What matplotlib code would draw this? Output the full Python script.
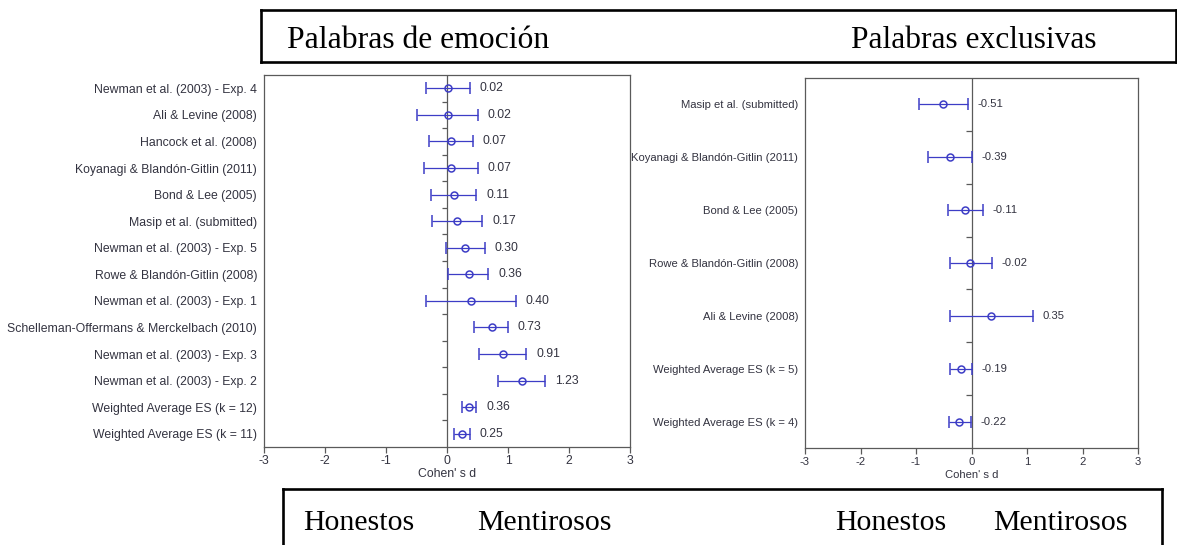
"""Forest plots: Cohen's d for emotion words vs exclusive words (honest vs liars)."""

import matplotlib

matplotlib.use("Agg")
import matplotlib.pyplot as plt  # noqa: E402
from matplotlib.lines import Line2D  # noqa: E402

# --- data -------------------------------------------------------------------
emo_labels = [
    "Newman et al. (2003) - Exp. 4",
    "Ali & Levine (2008)",
    "Hancock et al. (2008)",
    "Koyanagi & Blandón-Gitlin (2011)",
    "Bond & Lee (2005)",
    "Masip et al. (submitted)",
    "Newman et al. (2003) - Exp. 5",
    "Rowe & Blandón-Gitlin (2008)",
    "Newman et al. (2003) - Exp. 1",
    "Schelleman-Offermans & Merckelbach (2010)",
    "Newman et al. (2003) - Exp. 3",
    "Newman et al. (2003) - Exp. 2",
    "Weighted Average ES (k = 12)",
    "Weighted Average ES (k = 11)",
]
emo_d = [0.02, 0.02, 0.07, 0.07, 0.11, 0.17, 0.30, 0.36, 0.40, 0.73, 0.91, 1.23, 0.36, 0.25]
emo_lo = [-0.35, -0.49, -0.29, -0.37, -0.27, -0.24, -0.02, 0.01, -0.35, 0.45, 0.52, 0.84, 0.24, 0.12]
emo_hi = [0.37, 0.51, 0.43, 0.51, 0.48, 0.58, 0.62, 0.68, 1.13, 1.00, 1.30, 1.61, 0.48, 0.38]

exc_labels = [
    "Masip et al. (submitted)",
    "Koyanagi & Blandón-Gitlin (2011)",
    "Bond & Lee (2005)",
    "Rowe & Blandón-Gitlin (2008)",
    "Ali & Levine (2008)",
    "Weighted Average ES (k = 5)",
    "Weighted Average ES (k = 4)",
]
exc_d = [-0.51, -0.39, -0.11, -0.02, 0.35, -0.19, -0.22]
exc_lo = [-0.95, -0.79, -0.42, -0.39, -0.39, -0.38, -0.41]
exc_hi = [-0.07, 0.01, 0.21, 0.37, 1.10, 0.00, -0.01]

titles = ["Palabras de emoción", "Palabras exclusivas"]
sides = ["Honestos", "Mentirosos"]
x_ticks = [-3, -2, -1, 0, 1, 2, 3]

W, H = 1177, 545
BLUE = "#3d3dc6"
GRAY = "#5a5a5a"
TXT = "#333340"

plt.rcParams.update({
    "font.family": ["Liberation Sans", "DejaVu Sans"],
    "axes.unicode_minus": False,
})


def fx(x):
    return x / W


def fy(y):
    return 1 - y / H


def forest(fig, box, labels, d, lo, hi, fs, xpad):
    l, t, r, b = box
    ax = fig.add_axes([fx(l), fy(b), fx(r - l), (b - t) / H])
    n = len(labels)
    rows = list(range(n))
    ax.set_xlim(-3, 3)
    ax.set_ylim(n - 0.5, -0.5)
    ax.axvline(0, color=GRAY, lw=0.9, zorder=1)
    # small ticks on the zero line between rows
    tw = 6 * 5.5 / (r - l)
    ax.hlines([i + 0.5 for i in rows[:-1]], -tw, 0, color=GRAY, lw=0.9)
    err = [[di - a for di, a in zip(d, lo)], [c - di for di, c in zip(d, hi)]]
    ax.errorbar(d, rows, xerr=err, fmt="o", ms=5, mfc="none", mec=BLUE, mew=1.1,
                color=BLUE, ecolor=BLUE, elinewidth=0.9, capsize=4.3, capthick=0.9,
                zorder=3)
    for i, (v, h) in enumerate(zip(d, hi)):
        ax.annotate(f"{v:.2f}", (h, i), xytext=(7, 0), textcoords="offset points",
                    va="center", ha="left", color=TXT, fontsize=fs)
    ax.set_yticks(rows)
    ax.set_yticklabels(labels, color=TXT, fontsize=fs)
    ax.tick_params(axis="y", length=0, pad=5)
    ax.set_xticks(x_ticks)
    ax.tick_params(axis="x", direction="out", length=4, width=0.9, color=GRAY,
                   pad=xpad, labelcolor=TXT, labelsize=fs)
    ax.set_xlabel("Cohen' s d", color=TXT, labelpad=xpad - 0.5, fontsize=fs)
    for sp in ax.spines.values():
        sp.set_color(GRAY)
        sp.set_linewidth(0.9)
    return ax


fig = plt.figure(figsize=(W / 100, H / 100), dpi=100)

forest(fig, (264, 75, 630, 447), emo_labels, emo_d, emo_lo, emo_hi, 8.8, 1.5)
forest(fig, (805, 78, 1138, 448), exc_labels, exc_d, exc_lo, exc_hi, 8.1, 2.6)


def frame(x0, y0, x1, y1, sides_on="tblr"):
    segs = {
        "t": ([x0, x1], [y0, y0]),
        "b": ([x0, x1], [y1, y1]),
        "l": ([x0, x0], [y0, y1]),
        "r": ([x1, x1], [y0, y1]),
    }
    for s in sides_on:
        xs, ys = segs[s]
        fig.add_artist(Line2D([fx(v) for v in xs], [fy(v) for v in ys],
                              transform=fig.transFigure, color="black", lw=1.9,
                              solid_capstyle="projecting"))


serif = dict(family=["Liberation Serif", "DejaVu Serif"], color="black",
             va="baseline", ha="left")

# top heading box
frame(261, 10, 1175.5, 62)
fig.text(fx(287), fy(48), titles[0], fontsize=22.8, **serif)
fig.text(fx(851), fy(48), titles[1], fontsize=22.6, **serif)

# bottom direction box (runs off the bottom edge)
frame(283, 489, 1162, 560, sides_on="tlr")
for x, s in zip([303, 477, 835, 993], sides * 2):
    fig.text(fx(x), fy(530), s, fontsize=21.5, **serif)

fig.savefig("out.png", dpi=100)
plt.close(fig)
